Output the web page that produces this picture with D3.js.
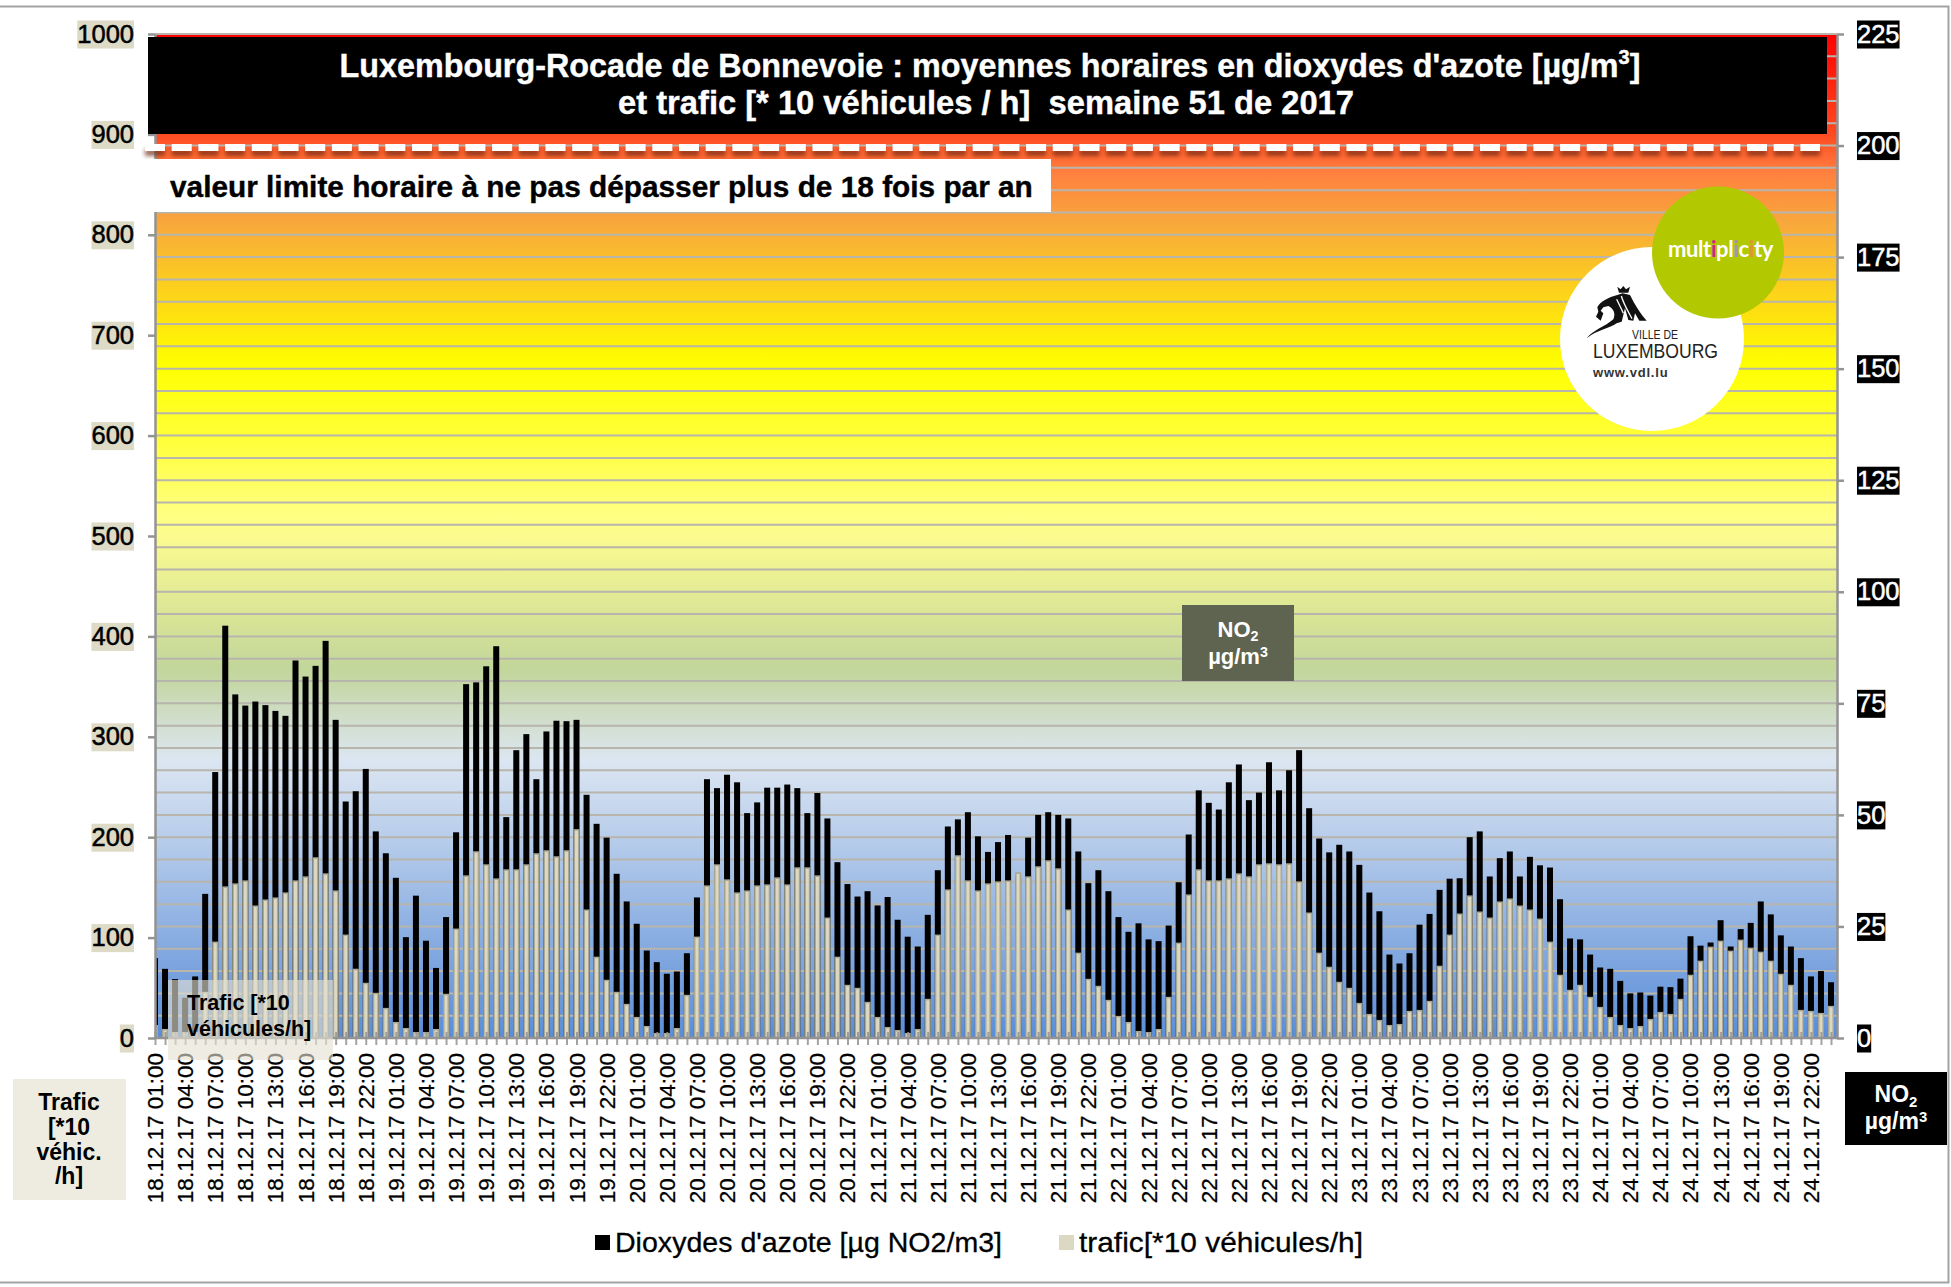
<!DOCTYPE html>
<html>
<head>
<meta charset="utf-8">
<script src="https://cdn.jsdelivr.net/npm/d3@7"></script>
<style>
	html, body { margin: 0; padding: 0; background: #fff; }
	svg { display: block; }
	text { font-family: "Liberation Sans", Arial, sans-serif; }
</style>
</head>
<body>
<div id="chart-area"></div>
<script>
// hourly NO2 [µg/m3], week 51 of 2017
var no2Values = [
	17.9, 15.5, 13.2, 9.0, 13.8, 32.3, 59.6, 92.4, 77.0, 74.5, 75.4, 74.6, 73.3, 72.2, 84.6, 81.0, 83.4, 89.0, 71.3, 53.0, 55.3, 60.3, 46.3, 41.4,
	35.9, 22.6, 31.9, 21.8, 15.7, 27.1, 46.1, 79.3, 79.7, 83.3, 87.8, 49.5, 64.5, 68.1, 58.0, 68.7, 71.1, 71.0, 71.3, 54.5, 48.0, 44.9, 36.8, 30.6,
	25.6, 19.6, 17.0, 14.4, 14.9, 19.0, 31.5, 58.0, 56.0, 59.0, 57.3, 50.4, 52.8, 56.1, 56.1, 56.8, 56.0, 50.4, 54.9, 49.2, 39.4, 34.5, 31.7, 32.9,
	29.7, 31.6, 26.5, 22.7, 20.5, 27.6, 37.6, 47.4, 49.0, 50.6, 45.2, 41.7, 43.9, 45.5, 36.2, 44.9, 50.0, 50.6, 50.0, 49.2, 41.8, 34.7, 37.6, 32.9,
	27.1, 23.8, 25.7, 22.1, 21.7, 25.2, 34.9, 45.6, 55.5, 52.7, 51.2, 57.3, 61.3, 53.3, 55.0, 61.8, 55.5, 60.0, 64.5, 51.5, 44.7, 41.6, 43.3, 41.8,
	38.8, 32.6, 28.4, 18.7, 16.7, 19.0, 25.4, 27.8, 33.2, 35.7, 35.8, 45.0, 46.3, 36.2, 40.3, 41.8, 36.2, 40.6, 38.7, 38.2, 31.1, 22.3, 22.1, 18.7,
	15.8, 15.5, 12.8, 10.0, 10.2, 9.5, 11.5, 11.4, 13.3, 22.8, 20.7, 21.4, 26.4, 20.5, 24.4, 25.8, 30.6, 27.7, 23.0, 20.5, 17.9, 13.8, 15.0, 12.5
];

// hourly traffic [*10 vehicles/h]
var traficValues = [
	13, 9, 6, 6, 6, 46, 96, 151, 154, 157, 132, 138, 140, 145, 157, 161, 180, 164, 147, 103, 69, 55, 45, 30,
	16, 10, 6, 6, 9, 44, 109, 162, 186, 173, 159, 168, 168, 173, 184, 187, 181, 187, 208, 128, 81, 58, 46, 34,
	21, 12, 5, 5, 10, 43, 101, 152, 173, 158, 145, 147, 152, 153, 160, 153, 170, 170, 162, 120, 81, 53, 50, 36,
	21, 11, 8, 5, 9, 39, 103, 148, 182, 157, 147, 154, 156, 157, 165, 161, 171, 177, 169, 128, 85, 59, 52, 38,
	22, 16, 7, 6, 9, 41, 95, 143, 168, 157, 157, 159, 164, 161, 173, 174, 173, 174, 156, 125, 85, 71, 56, 50,
	35, 24, 18, 13, 14, 27, 28, 37, 72, 103, 124, 142, 126, 120, 136, 139, 132, 128, 119, 96, 63, 48, 53, 41,
	31, 21, 13, 10, 12, 19, 26, 24, 39, 63, 77, 91, 97, 87, 98, 90, 86, 77, 64, 53, 28, 27, 25, 32
];

var days = ["18.12.17", "19.12.17", "20.12.17", "21.12.17", "22.12.17", "23.12.17", "24.12.17"];
var hours = ["01:00", "04:00", "07:00", "10:00", "13:00", "16:00", "19:00", "22:00"];

var traficTicks = [0, 100, 200, 300, 400, 500, 600, 700, 800, 900, 1000];
var no2Ticks = [0, 25, 50, 75, 100, 125, 150, 175, 200, 225];

// band colours of the plot background, by left axis value
var bandValues = [1000, 900, 862, 812, 765, 722, 670, 589, 523, 499, 433, 367, 320, 277, 0];
var bandColors = ["#ff0000", "#ff4a22", "#ff8040", "#f8a83c", "#fbc525", "#fee010", "#ffff00", "#ffff40",
	"#ffff80", "#fbfb90", "#dfe895", "#c2d69b", "#d0ddc8", "#dce6f2", "#5a8dd8"];

var limitNo2 = 200;

// define margins and graph size
var svgWidth = 1951, svgHeight = 1287;
var plot = { left: 155, right: 1837, top: 34, bottom: 1038 };
var firstBar = 155, lastBar = 1831;

var svg = d3.select("#chart-area").append("svg")
	.attr("width", svgWidth)
	.attr("height", svgHeight);

// create scales
var hourCount = no2Values.length;
var x = d3.scalePoint().domain(d3.range(hourCount)).range([firstBar, lastBar]);
var yTrafic = d3.scaleLinear().domain([0, 1000]).range([plot.bottom, plot.top]);
var yNo2 = d3.scaleLinear().domain([0, 225]).range([plot.bottom, plot.top]);

var defs = svg.append("defs");

var grad = defs.append("linearGradient")
	.attr("id", "bg-grad")
	.attr("x1", 0).attr("x2", 0).attr("y1", 0).attr("y2", 1);
bandValues.forEach(function(v, i) {
	grad.append("stop")
		.attr("offset", (1000 - v) / 1000)
		.attr("stop-color", bandColors[i]);
});

defs.append("clipPath").attr("id", "plot-clip")
	.append("rect")
	.attr("x", plot.left).attr("y", plot.top)
	.attr("width", plot.right - plot.left)
	.attr("height", plot.bottom - plot.top);

// a horizontal line has no height, so the filter region has to be in user space
var shadow = defs.append("filter").attr("id", "dash-shadow")
	.attr("filterUnits", "userSpaceOnUse")
	.attr("x", 130).attr("y", 130).attr("width", 1710).attr("height", 40);
shadow.append("feDropShadow")
	.attr("dx", 0).attr("dy", 5).attr("stdDeviation", 2.2)
	.attr("flood-color", "#6e2c10").attr("flood-opacity", 0.7);

// outer frame
var frameColor = "#a3a3a3";
svg.append("path")
	.attr("d", "M0,6.5H1948.5V1282.5H0")
	.attr("fill", "none")
	.attr("stroke", frameColor)
	.attr("stroke-width", 2);

// background
svg.append("rect")
	.attr("x", plot.left).attr("y", plot.top)
	.attr("width", plot.right - plot.left)
	.attr("height", plot.bottom - plot.top)
	.attr("fill", "url(#bg-grad)");

// gridlines, one per 5 µg/m3
svg.append("g").attr("class", "grid")
	.selectAll("line")
	.data(d3.range(5, 230, 5))
	.enter()
	.append("line")
	.attr("x1", plot.left).attr("x2", plot.right)
	.attr("y1", d => yNo2(d)).attr("y2", d => yNo2(d))
	.attr("stroke", "#b8b5ad")
	.attr("stroke-width", 2);

// bars
var bars = svg.append("g").attr("class", "bars").attr("clip-path", "url(#plot-clip)");

bars.selectAll("rect.no2")
	.data(no2Values)
	.enter()
	.append("rect")
	.attr("class", "no2")
	.attr("x", (d, i) => x(i) - 3)
	.attr("y", d => yNo2(d))
	.attr("width", 6)
	.attr("height", d => plot.bottom - yNo2(d))
	.attr("fill", "#000");

bars.selectAll("rect.trafic")
	.data(traficValues)
	.enter()
	.append("rect")
	.attr("class", "trafic")
	.attr("x", (d, i) => x(i) - 2.25)
	.attr("y", d => yTrafic(d) + 0.75)
	.attr("width", 4.5)
	.attr("height", d => plot.bottom - yTrafic(d) - 0.75)
	.attr("fill", "#dcd8c2")
	.attr("stroke", "#aaa893")
	.attr("stroke-width", 1.5);

// derive axes
var axisColor = "#939393";

function styleAxis(g) {
	g.select(".domain").attr("stroke", axisColor).attr("stroke-width", 2.5);
	g.selectAll(".tick line").attr("stroke", axisColor).attr("stroke-width", 2.5);
}

function labelBoxes(g, fill) {
	g.selectAll(".tick").each(function() {
		var tick = d3.select(this);
		var box = tick.select("text").node().getBBox();
		tick.insert("rect", "text")
			.attr("x", box.x)
			.attr("y", -14)
			.attr("width", box.width)
			.attr("height", 28)
			.attr("fill", fill);
	});
}

var yAxisLeft = svg.append("g")
	.attr("class", "y-axis-left")
	.attr("transform", "translate(" + plot.left + ",0)")
	.call(d3.axisLeft(yTrafic).tickValues(traficTicks).tickFormat(d => d).tickSize(7).tickSizeOuter(0).tickPadding(14));
styleAxis(yAxisLeft);
yAxisLeft.selectAll("text")
	.attr("font-size", 25.5)
	.attr("fill", "#000")
	.attr("stroke", "#000")
	.attr("stroke-width", 0.5);
labelBoxes(yAxisLeft, "#dddac6");

var yAxisRight = svg.append("g")
	.attr("class", "y-axis-right")
	.attr("transform", "translate(" + plot.right + ",0)")
	.call(d3.axisRight(yNo2).tickValues(no2Ticks).tickSize(7).tickSizeOuter(0).tickPadding(13));
styleAxis(yAxisRight);
yAxisRight.selectAll("text")
	.attr("font-size", 25.5)
	.attr("fill", "#fff")
	.attr("stroke", "#fff")
	.attr("stroke-width", 0.5);
labelBoxes(yAxisRight, "#000");

var xAxis = d3.axisBottom(x)
	.tickSize(7)
	.tickSizeOuter(0)
	.tickFormat(function(d) {
		if (d % 3 != 0) return "";
		return days[Math.floor(d / 24)] + " " + hours[(d % 24) / 3];
	});

var xAxisG = svg.append("g")
	.attr("class", "x-axis")
	.attr("transform", "translate(0," + plot.bottom + ")")
	.call(xAxis);
styleAxis(xAxisG);
xAxisG.select(".domain").attr("d", "M" + plot.left + ",0H" + plot.right);
// the ticks cross the axis, they show inside the foot of the bars
xAxisG.selectAll(".tick line").attr("y1", -6).attr("stroke-width", 2).attr("stroke-opacity", 0.85);
xAxisG.selectAll("text")
	.attr("font-size", 22.5)
	.attr("fill", "#000")
	.attr("stroke", "#000")
	.attr("stroke-width", 0.25)
	.attr("text-anchor", "end")
	.attr("dominant-baseline", "central")
	.attr("dy", 0)
	.attr("x", 0)
	.attr("y", 0)
	.attr("transform", "translate(0,15) rotate(-90)");

// title block
svg.append("rect")
	.attr("x", 148).attr("y", 37)
	.attr("width", 1679).attr("height", 97)
	.attr("fill", "#000");

var title = svg.append("text")
	.attr("x", 990).attr("y", 77)
	.attr("text-anchor", "middle")
	.attr("font-size", 32.3)
	.attr("font-weight", "bold")
	.attr("stroke", "#fff")
	.attr("stroke-width", 0.4)
	.attr("fill", "#fff");
title.append("tspan").text("Luxembourg-Rocade de Bonnevoie : moyennes horaires en dioxydes d'azote [µg/m");
title.append("tspan").attr("font-size", 20).attr("dy", -13).text("3");
title.append("tspan").attr("dy", 13).text("]");

svg.append("text")
	.attr("x", 986).attr("y", 114)
	.attr("text-anchor", "middle")
	.attr("font-size", 32.7)
	.attr("font-weight", "bold")
	.attr("stroke", "#fff")
	.attr("stroke-width", 0.4)
	.attr("fill", "#fff")
	.attr("xml:space", "preserve")
	.text("et trafic [* 10 véhicules / h]  semaine 51 de 2017");

// limit line
svg.append("line")
	.attr("x1", 145).attr("x2", 1820)
	.attr("y1", yNo2(limitNo2) + 2).attr("y2", yNo2(limitNo2) + 2)
	.attr("stroke", "#fff")
	.attr("stroke-width", 7)
	.attr("stroke-dasharray", "20 6.7")
	.attr("filter", "url(#dash-shadow)");

// limit label
svg.append("rect")
	.attr("x", 148).attr("y", 159)
	.attr("width", 903).attr("height", 53)
	.attr("fill", "#fff");

svg.append("text")
	.attr("x", 170).attr("y", 197)
	.attr("font-size", 29.8)
	.attr("font-weight", "bold")
	.attr("stroke", "#000")
	.attr("stroke-width", 0.4)
	.attr("fill", "#000")
	.text("valeur limite horaire à ne pas dépasser plus de 18 fois par an");

// logos
var logo = svg.append("g").attr("class", "logos");
logo.append("circle").attr("cx", 1652).attr("cy", 339).attr("r", 92).attr("fill", "#fff");
logo.append("circle").attr("cx", 1718).attr("cy", 252.5).attr("r", 66).attr("fill", "#b2c800");

// rough lion of the Ville de Luxembourg mark
var lion = logo.append("g").attr("transform", "translate(1580,280) scale(0.3333)");
lion.append("path")
	.attr("d", "M112,20 L122,28 L130,18 L138,28 L150,20 L145,38 L117,38 Z")
	.attr("fill", "#111");
lion.append("path")
	.attr("d", "M52,82 C60,65 85,52 112,45 L128,40 L150,45 C165,75 180,100 200,122 L178,122 L165,100 L160,122 L145,120 L135,85 L125,125 L110,130 C90,145 50,150 20,175 C40,150 75,140 100,118 C108,100 100,85 85,78 L70,82 L62,92 L70,100 L62,122 L48,110 L55,95 Z")
	.attr("fill", "#111");
lion.append("path")
	.attr("d", "M124,48 C132,75 145,95 156,116 M110,58 C118,75 124,85 130,100")
	.attr("fill", "none")
	.attr("stroke", "#fff")
	.attr("stroke-width", 4);

logo.append("text")
	.attr("x", 1632).attr("y", 338.5)
	.attr("font-size", 13)
	.attr("textLength", 46)
	.attr("lengthAdjust", "spacingAndGlyphs")
	.attr("fill", "#222")
	.text("VILLE DE");
logo.append("text")
	.attr("x", 1593).attr("y", 358)
	.attr("font-size", 21)
	.attr("textLength", 125)
	.attr("lengthAdjust", "spacingAndGlyphs")
	.attr("fill", "#222")
	.text("LUXEMBOURG");
logo.append("text")
	.attr("x", 1593).attr("y", 377)
	.attr("font-size", 13)
	.attr("font-weight", "bold")
	.attr("letter-spacing", 0.8)
	.attr("fill", "#333")
	.text("www.vdl.lu");

var brand = logo.append("text")
	.attr("x", 1668).attr("y", 257)
	.style("font-family", "Lato")
	.attr("font-size", 22)
	.attr("font-weight", "bold")
	.attr("letter-spacing", -0.4)
	.attr("fill", "#fff");
brand.append("tspan").text("mult");
brand.append("tspan").attr("fill", "#d6218a").text("i");
brand.append("tspan").text("pl");
brand.append("tspan").attr("fill", "#a98fb8").text("i");
brand.append("tspan").text("c");
brand.append("tspan").attr("fill", "#e88f3a").text("i");
brand.append("tspan").text("ty");

// floating NO2 box
var no2Box = svg.append("g").attr("class", "no2-box");
no2Box.append("rect")
	.attr("x", 1182).attr("y", 605)
	.attr("width", 112).attr("height", 76)
	.attr("fill", "#5f6450");

function no2Label(g, cx, y1, y2, size) {
	var l1 = g.append("text")
		.attr("x", cx).attr("y", y1)
		.attr("text-anchor", "middle")
		.attr("font-size", size)
		.attr("font-weight", "bold")
		.attr("fill", "#fff");
	l1.append("tspan").text("NO");
	l1.append("tspan").attr("font-size", size * 0.65).attr("dy", size * 0.2).text("2");
	var l2 = g.append("text")
		.attr("x", cx).attr("y", y2)
		.attr("text-anchor", "middle")
		.attr("font-size", size)
		.attr("font-weight", "bold")
		.attr("fill", "#fff");
	l2.append("tspan").text("µg/m");
	l2.append("tspan").attr("font-size", size * 0.65).attr("dy", -size * 0.3).text("3");
}
no2Label(no2Box, 1238, 637, 664, 22);

// floating traffic box, see-through
svg.append("rect")
	.attr("x", 168).attr("y", 980)
	.attr("width", 165).attr("height", 80)
	.attr("fill", "#e4e1d2")
	.attr("fill-opacity", 0.62);

svg.append("text")
	.attr("x", 187).attr("y", 1010)
	.attr("font-size", 21.5)
	.attr("font-weight", "bold")
	.attr("fill", "#000")
	.text("Trafic [*10");
svg.append("text")
	.attr("x", 187).attr("y", 1036)
	.attr("font-size", 21.5)
	.attr("font-weight", "bold")
	.attr("fill", "#000")
	.text("véhicules/h]");

// bottom left unit box
svg.append("rect")
	.attr("x", 13).attr("y", 1079)
	.attr("width", 113).attr("height", 121)
	.attr("fill", "#eeece1");

svg.append("g")
	.selectAll("text")
	.data(["Trafic", "[*10", "véhic.", "/h]"])
	.enter()
	.append("text")
	.attr("x", 69)
	.attr("y", (d, i) => 1110 + i * 24.8)
	.attr("text-anchor", "middle")
	.attr("font-size", 23)
	.attr("font-weight", "bold")
	.attr("fill", "#000")
	.text(d => d);

// bottom right unit box
var no2Unit = svg.append("g");
no2Unit.append("rect")
	.attr("x", 1845).attr("y", 1072)
	.attr("width", 102).attr("height", 73)
	.attr("fill", "#000");
no2Label(no2Unit, 1896, 1102, 1129, 23);

// legend
var legendY = 1252;
svg.append("rect").attr("x", 595).attr("y", legendY - 17).attr("width", 15).attr("height", 15).attr("fill", "#000");
svg.append("text")
	.attr("x", 615).attr("y", legendY)
	.attr("font-size", 28.5)
	.attr("textLength", 387)
	.attr("lengthAdjust", "spacingAndGlyphs")
	.attr("stroke", "#000")
	.attr("stroke-width", 0.3)
	.attr("fill", "#000")
	.text("Dioxydes d'azote [µg NO2/m3]");
svg.append("rect").attr("x", 1059).attr("y", legendY - 17).attr("width", 15).attr("height", 15).attr("fill", "#dcd8c2");
svg.append("text")
	.attr("x", 1079).attr("y", legendY)
	.attr("font-size", 28.5)
	.attr("textLength", 284)
	.attr("lengthAdjust", "spacingAndGlyphs")
	.attr("stroke", "#000")
	.attr("stroke-width", 0.3)
	.attr("fill", "#000")
	.text("trafic[*10 véhicules/h]");
</script>
</body>
</html>
